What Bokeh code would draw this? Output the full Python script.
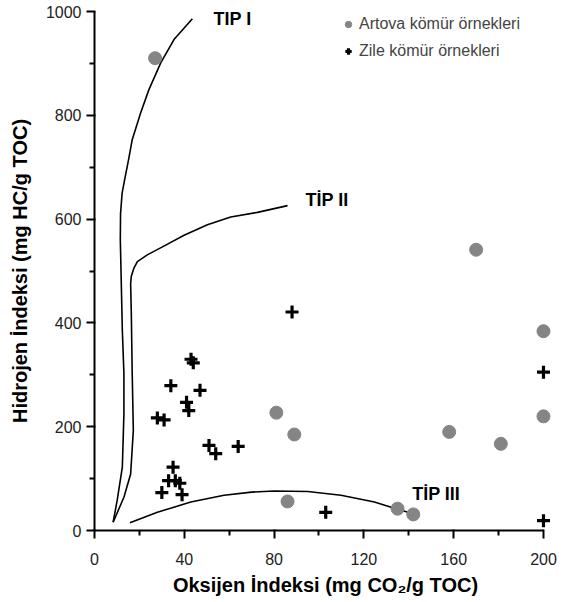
from bokeh.plotting import figure
from bokeh.models import Range1d, FixedTicker, Legend, LegendItem, ColumnDataSource
from bokeh.core.properties import value
from bokeh.embed import file_html
from bokeh.resources import INLINE

# ---- data ----
artova_oi = [27, 170, 200, 200, 81, 89, 158, 181, 86, 135, 142]
artova_hi = [910, 541, 384, 220, 227, 185, 190, 167, 56, 42, 31]

zile_oi = [88, 43, 44, 34, 47, 41, 42, 28, 31, 51, 54, 64, 35, 33, 36, 38, 30, 39, 103, 200, 200]
zile_hi = [421, 330, 323, 279, 270, 247, 231, 217, 213, 164, 148, 162, 122, 96, 96, 91, 73, 69, 35, 305, 19]

type1_oi = [8.3, 10.1, 12.4, 13.1, 13.1, 12.4, 11.9, 11.5, 11.6, 12.3, 13.6, 15.2, 16.8, 20.5, 24.2, 29.5, 35.4, 43.6]
type1_hi = [16, 58, 122, 225, 303, 386, 483, 560, 610, 650, 680, 715, 753, 804, 849, 901, 946, 986]

type2_oi = [8.3, 13.1, 16.1, 17.3, 16.8, 16.4, 16.1, 16.4, 17.5, 19.1, 23.5, 30.9, 39.9, 50.3, 60.7, 72.6, 86.0]
type2_hi = [16, 64, 109, 193, 302, 418, 475, 490, 505, 518, 531, 548, 569, 589, 604, 613, 626]

type3_oi = [15.8, 28.0, 42.9, 57.7, 70.0, 80.0, 95.0, 109.8, 124.7, 132.1, 139.6]
type3_hi = [15, 35, 55, 68, 74, 76, 75, 68, 55, 45, 35]

type_labels = ["TİP I", "TİP II", "TİP III"]
type_label_oi = [53.0, 94.0, 141.5]
type_label_hi = [986, 636, 71]

x_ticks = [0, 40, 80, 120, 160, 200]
x_minor = [20, 60, 100, 140, 180]
y_ticks = [0, 200, 400, 600, 800, 1000]
y_minor = [100, 300, 500, 700, 900]

FONT = "Liberation Sans"

p = figure(width=566, height=602, output_backend="svg", toolbar_location=None,
           x_range=Range1d(0, 205.8), y_range=Range1d(0, 1000),
           min_border_left=94, min_border_right=10, min_border_top=11, min_border_bottom=72)
p.outline_line_color = None
p.grid.visible = False
p.background_fill_color = "white"

# curves
for xs, ys in [(type1_oi, type1_hi), (type2_oi, type2_hi), (type3_oi, type3_hi)]:
    p.line(xs, ys, line_color="black", line_width=1.6, line_join="round")

r_art = p.scatter(artova_oi, artova_hi, marker="circle", size=13,
                  fill_color="#858585", line_color="#858585")
r_zile = p.scatter(zile_oi, zile_hi, marker="cross", size=13,
                   line_color="black", line_width=3.2)

src = ColumnDataSource(dict(x=type_label_oi, y=type_label_hi, t=type_labels))
p.text("x", "y", text="t", source=src, text_font=value(FONT), text_font_style="bold",
       text_font_size="18px", text_baseline="middle", text_align="left", text_color="black")

legend = Legend(items=[LegendItem(label="Artova kömür örnekleri", renderers=[r_art]),
                       LegendItem(label="Zile kömür örnekleri", renderers=[r_zile])],
                location=(246, 469), padding=0, margin=0, spacing=7,
                glyph_width=16, glyph_height=20, label_height=20, label_standoff=3,
                label_text_font=FONT, label_text_font_size="16px",
                border_line_color=None, background_fill_alpha=0)
p.add_layout(legend, "center")

for ax in (p.xaxis[0], p.yaxis[0]):
    ax.axis_line_width = 2
    ax.major_tick_line_width = 2
    ax.minor_tick_line_width = 2
    ax.major_tick_out = 8
    ax.major_tick_in = 1
    ax.minor_tick_out = 5
    ax.minor_tick_in = 0
    ax.major_label_text_font = FONT
    ax.major_label_text_font_size = "16px"
    ax.major_label_text_color = "#222222"
    ax.axis_label_text_font = FONT
    ax.axis_label_text_font_size = "20px"
    ax.axis_label_text_font_style = "bold"
    ax.axis_label_text_color = "black"

p.xaxis.ticker = FixedTicker(ticks=x_ticks, minor_ticks=x_minor)
p.yaxis.ticker = FixedTicker(ticks=y_ticks, minor_ticks=y_minor)
p.xaxis.bounds = (0, 200)
p.yaxis.bounds = (0, 1000)
p.xaxis.axis_label = "Oksijen İndeksi (mg CO₂/g TOC)"
p.yaxis.axis_label = "Hidrojen İndeksi (mg HC/g TOC)"
p.xaxis.major_label_standoff = 14
p.yaxis.major_label_standoff = 5
p.xaxis.axis_label_standoff = 6
p.yaxis.axis_label_standoff = 12

open("out.html", "w").write(file_html(p, INLINE))
